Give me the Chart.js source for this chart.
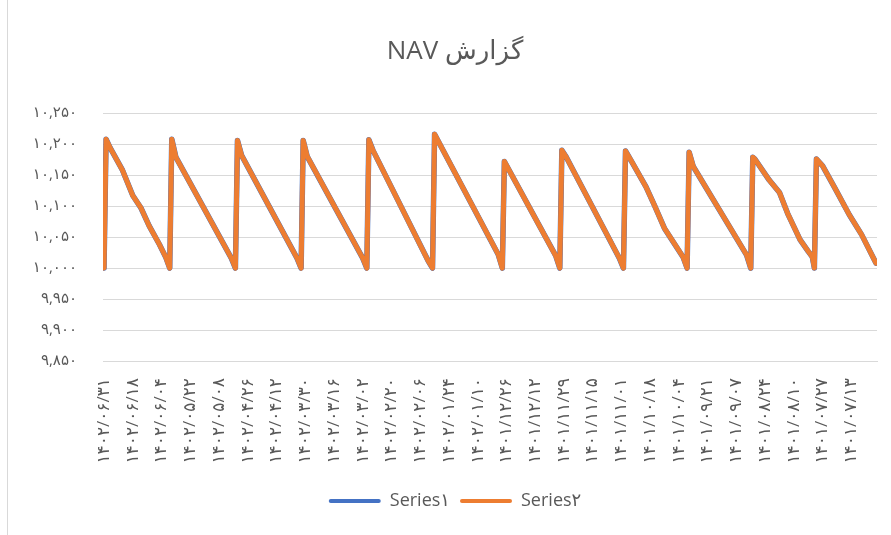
<!DOCTYPE html>
<html lang="fa">
<head>
<meta charset="utf-8">
<script src="https://cdn.jsdelivr.net/npm/chart.js@4.4.0/dist/chart.umd.min.js"></script>
<style>
    html, body { margin: 0; padding: 0; background: #fff; overflow: hidden; }
    #wrap { position: relative; width: 891px; height: 535px; }
    #edge { position: absolute; left: 7px; top: 0; width: 1px; height: 535px; background: #d9d9d9; }
</style>
</head>
<body>
<div id="wrap">
    <canvas id="myChart" dir="rtl"></canvas>
    <div id="edge"></div>
</div>
<script>
// tick labels on the category axis, one every 14 rows
const xLabels = [
    '۱۴۰۲/۰۶/۳۱', '۱۴۰۲/۰۶/۱۸', '۱۴۰۲/۰۶/۰۴', '۱۴۰۲/۰۵/۲۲', '۱۴۰۲/۰۵/۰۸', '۱۴۰۲/۰۴/۲۶',
    '۱۴۰۲/۰۴/۱۲', '۱۴۰۲/۰۳/۳۰', '۱۴۰۲/۰۳/۱۶', '۱۴۰۲/۰۳/۰۲', '۱۴۰۲/۰۲/۲۰', '۱۴۰۲/۰۲/۰۶',
    '۱۴۰۲/۰۱/۲۴', '۱۴۰۲/۰۱/۱۰', '۱۴۰۱/۱۲/۲۶', '۱۴۰۱/۱۲/۱۲', '۱۴۰۱/۱۱/۲۹', '۱۴۰۱/۱۱/۱۵',
    '۱۴۰۱/۱۱/۰۱', '۱۴۰۱/۱۰/۱۸', '۱۴۰۱/۱۰/۰۴', '۱۴۰۱/۰۹/۲۱', '۱۴۰۱/۰۹/۰۷', '۱۴۰۱/۰۸/۲۴',
    '۱۴۰۱/۰۸/۱۰', '۱۴۰۱/۰۷/۲۷', '۱۴۰۱/۰۷/۱۳'
];
const labelStep = 14;

const yLabels = ['۹,۸۵۰', '۹,۹۰۰', '۹,۹۵۰', '۱۰,۰۰۰', '۱۰,۰۵۰', '۱۰,۱۰۰', '۱۰,۱۵۰', '۱۰,۲۰۰', '۱۰,۲۵۰'];

// row index (from the left) of each point
const rowIndex = [
    0, 1, 3, 9, 14, 18, 22, 27, 30, 32,
    33, 35, 62, 64,
    65, 67, 94, 96,
    97, 99, 126, 128,
    129, 131, 158, 160,
    161, 192, 194,
    195, 220, 222,
    223, 225, 251, 253,
    254, 257, 264, 268, 273, 282, 284,
    285, 287, 313, 315,
    316, 317, 324, 329, 333, 339, 343, 345, 346,
    347, 350, 356, 363, 369, 376
];

const series1 = [
    10000, 10208, 10194, 10158, 10117, 10097, 10068, 10038, 10018, 10000,
    10208, 10179, 10016, 10000,
    10206, 10182, 10016, 10000,
    10206, 10180, 10016, 10000,
    10207, 10190, 10011, 10000,
    10216, 10022, 10000,
    10172, 10020, 10000,
    10190, 10180, 10016, 10000,
    10189, 10172, 10131, 10102, 10064, 10018, 10000,
    10187, 10164, 10021, 10000,
    10179, 10176, 10142, 10122, 10088, 10046, 10027, 10018, 10000,
    10176, 10165, 10129, 10086, 10054, 10008
];

const series2 = [
    10000, 10208, 10194, 10158, 10117, 10097, 10068, 10038, 10018, 10000,
    10208, 10179, 10016, 10000,
    10206, 10182, 10016, 10000,
    10206, 10180, 10016, 10000,
    10207, 10190, 10011, 10000,
    10216, 10022, 10000,
    10172, 10020, 10000,
    10190, 10180, 10016, 10000,
    10189, 10172, 10131, 10102, 10064, 10018, 10000,
    10187, 10164, 10021, 10000,
    10179, 10176, 10142, 10122, 10088, 10046, 10027, 10018, 10000,
    10176, 10165, 10129, 10086, 10054, 10008
];

const fontFamily = "'Open Sans', 'DejaVu Sans', sans-serif";
const textColor = '#595959';

var ctx = document.getElementById('myChart').getContext('2d');
var myChart = new Chart(ctx, {
    type: 'line',
    data: {
        datasets: [
            {
                label: 'Series۱',
                data: rowIndex.map((r, i) => ({ x: r, y: series1[i] })),
                borderColor: '#4472C4',
                backgroundColor: '#4472C4',
                borderWidth: 5.5,
                pointRadius: 0,
                borderJoinStyle: 'round',
                borderCapStyle: 'round',
                order: 1
            },
            {
                label: 'Series۲',
                data: rowIndex.map((r, i) => ({ x: r, y: series2[i] })),
                borderColor: '#ED7D31',
                backgroundColor: '#ED7D31',
                borderWidth: 5,
                pointRadius: 0,
                borderJoinStyle: 'round',
                borderCapStyle: 'round',
                order: 0
            }
        ]
    },
    options: {
        responsive: true,
        maintainAspectRatio: false,
        animation: false,
        layout: { padding: { top: 0, left: 33, right: 14, bottom: 15 } },
        plugins: {
            tooltip: { enabled: false },
            title: {
                display: true,
                text: 'گزارش NAV',
                color: textColor,
                font: { family: fontFamily, size: 26, weight: 'normal' },
                padding: { top: 36, bottom: 46 }
            },
            legend: {
                position: 'bottom',
                labels: {
                    color: textColor,
                    font: { family: fontFamily, size: 18 },
                    boxWidth: 52,
                    boxHeight: 4,
                    useBorderRadius: true,
                    borderRadius: 2,
                    padding: 10,
                    sort: (a, b) => a.datasetIndex - b.datasetIndex,
                    // thin line markers instead of outlined boxes
                    generateLabels: chart => Chart.defaults.plugins.legend.labels.generateLabels(chart)
                        .map(item => ({ ...item, lineWidth: 0 }))
                }
            }
        },
        scales: {
            x: {
                type: 'linear',
                min: -0.5,
                max: 376.5,
                grid: { display: false, drawTicks: false },
                border: { display: true, color: '#d9d9d9' },
                afterBuildTicks: scale => {
                    scale.ticks = xLabels.map((l, i) => ({ value: i * labelStep }));
                },
                afterFit: scale => { scale.height = 121; },
                ticks: {
                    color: textColor,
                    font: { family: fontFamily, size: 17 },
                    minRotation: 90,
                    maxRotation: 90,
                    autoSkip: false,
                    padding: 17,
                    callback: v => xLabels[Math.round(v / labelStep)]
                }
            },
            y: {
                min: 9850,
                max: 10250,
                grid: { color: '#d9d9d9', lineWidth: 1, drawTicks: false },
                border: { display: false },
                afterFit: scale => { scale.width = 70; },
                ticks: {
                    stepSize: 50,
                    color: textColor,
                    font: { family: fontFamily, size: 15 },
                    padding: 26,
                    callback: v => yLabels[Math.round((v - 9850) / 50)]
                }
            }
        }
    }
});
</script>
</body>
</html>
